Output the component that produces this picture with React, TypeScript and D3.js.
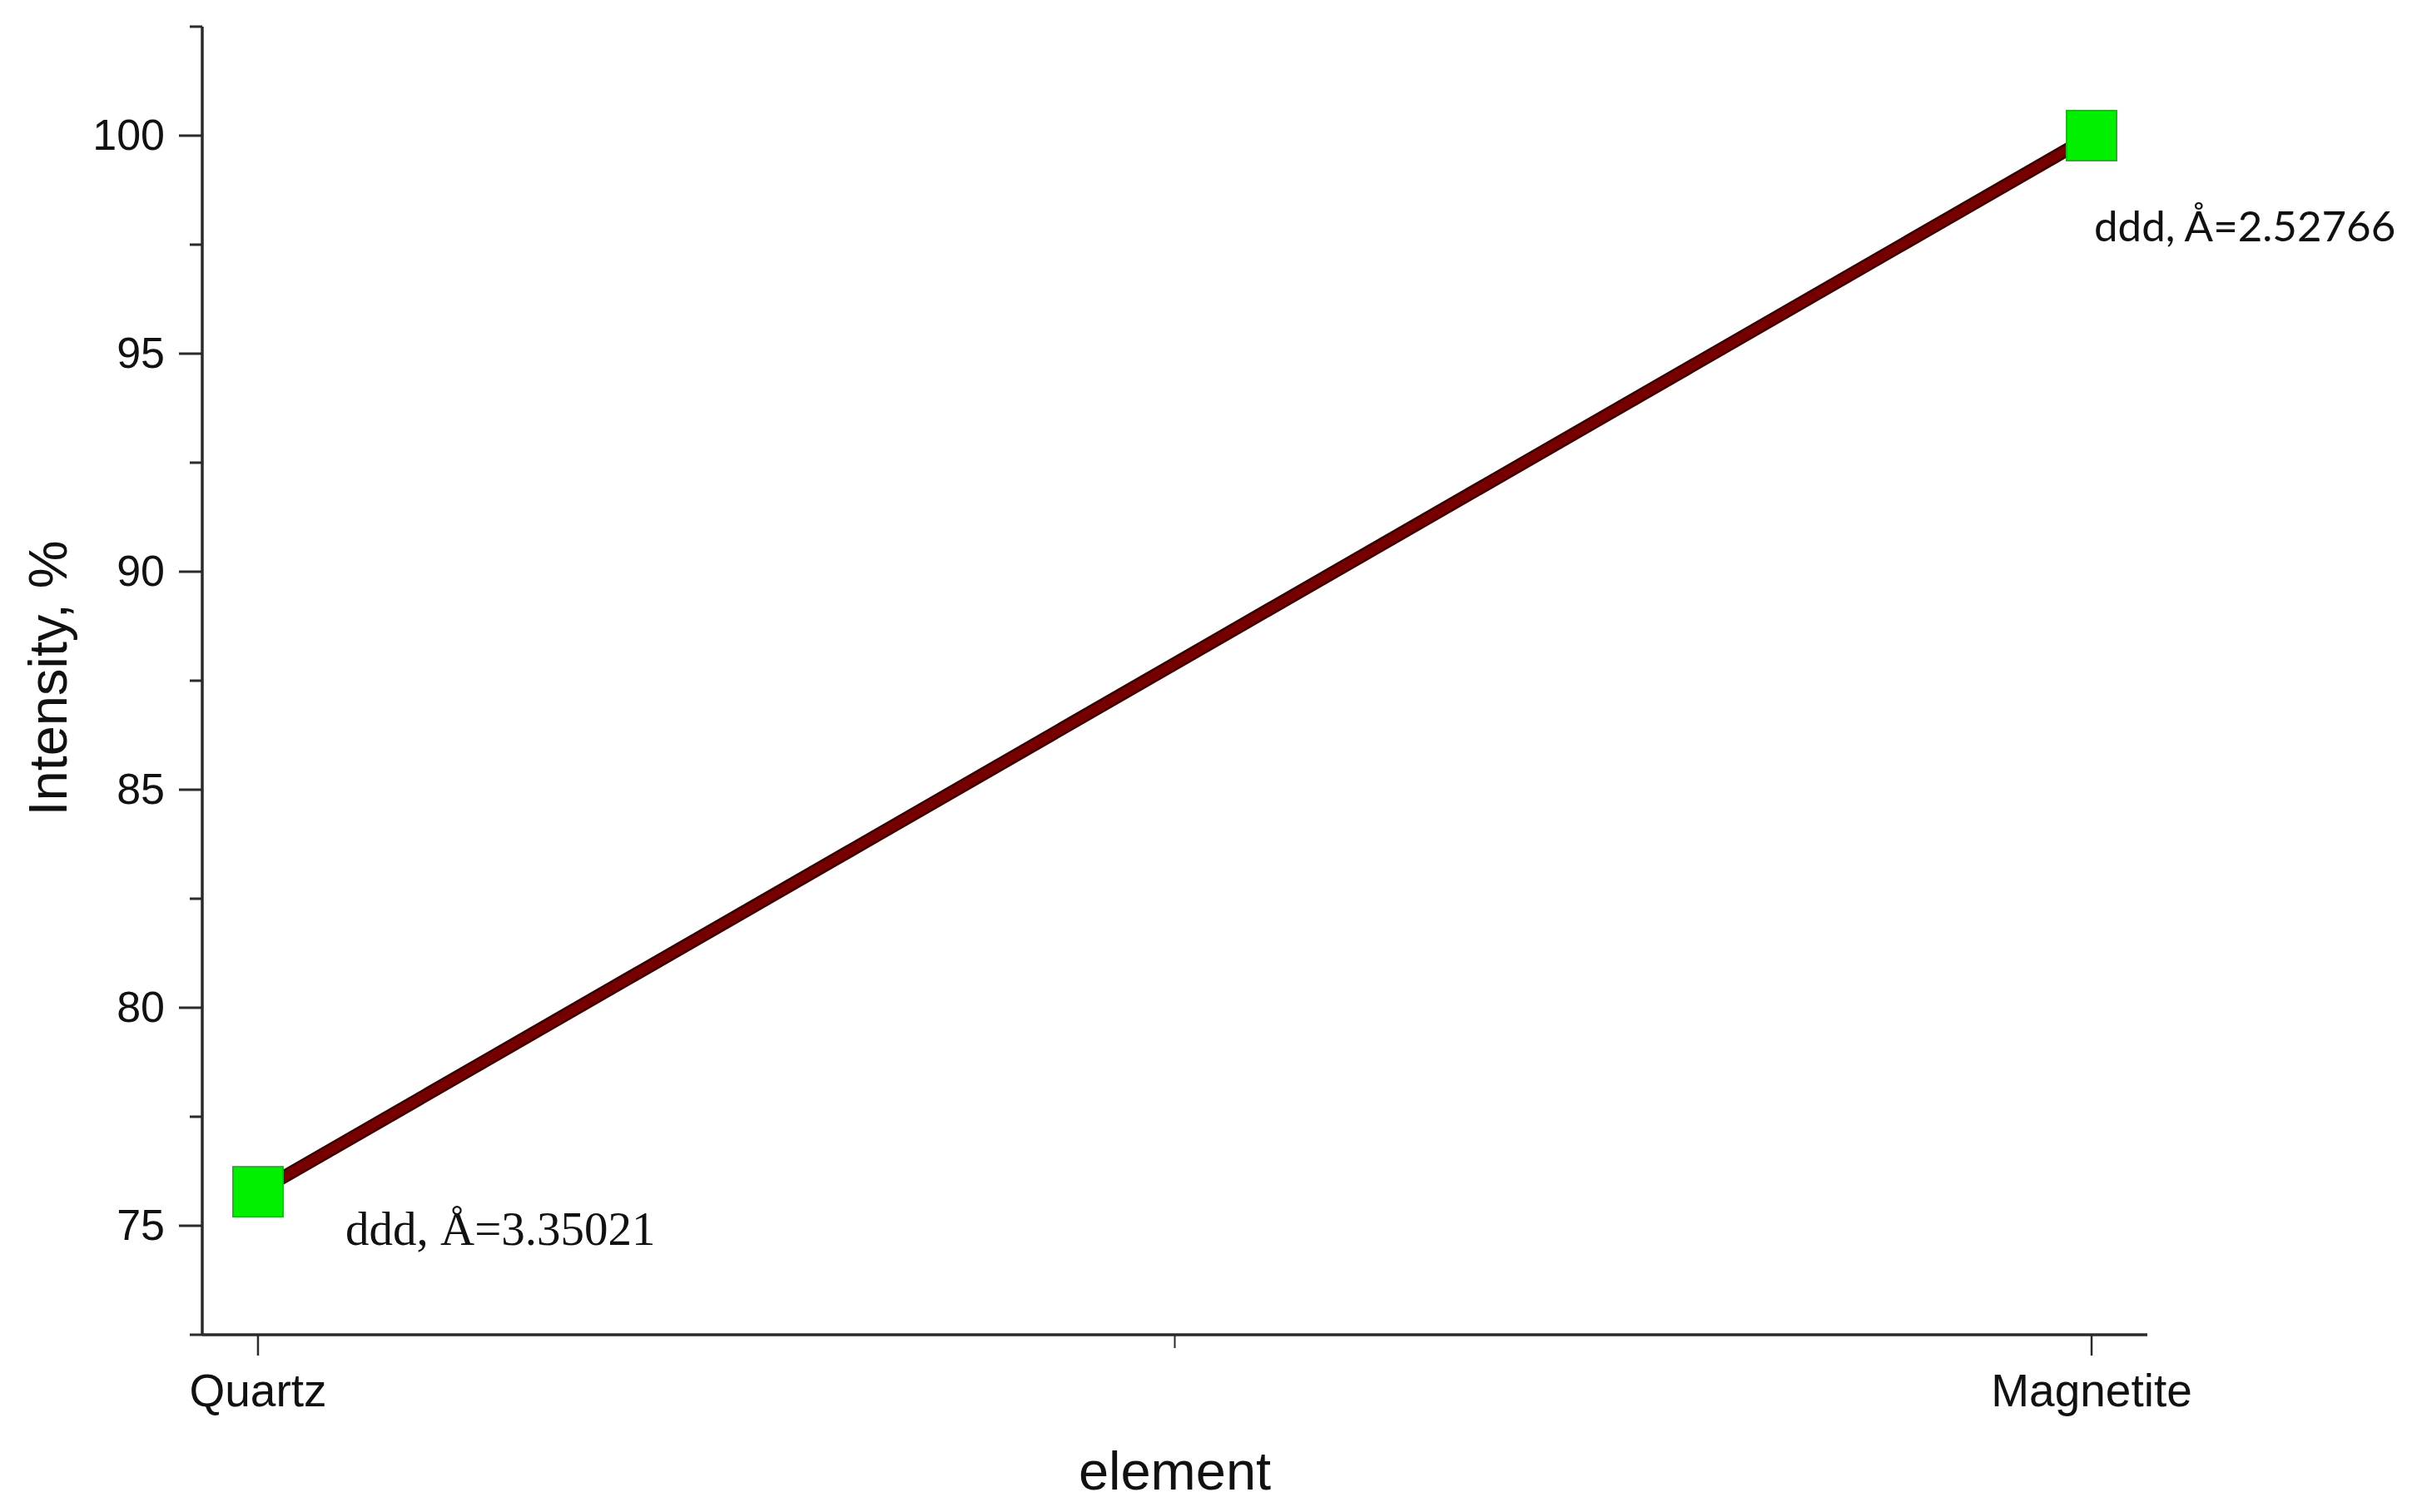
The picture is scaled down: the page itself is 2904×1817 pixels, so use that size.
import React from "react";
import * as d3 from "d3";

const categories = ["Quartz", "Magnetite"];
const intensity = [75.78, 100];
const labels = ["ddd, Å=3.35021", "ddd, Å=2.52766"];
const yMajorTicks = [75, 80, 85, 90, 95, 100];
const yMinorTicks = [72.5, 77.5, 82.5, 87.5, 92.5, 97.5, 102.5];
const xMinorTicks = [0.5];

const W = 2904;
const H = 1817;
const left = 243;
const right = 2580;
const top = 32;
const bottom = 1604;

export default function App() {
  const x = d3.scaleLinear().domain([-0.0304, 1.0304]).range([left, right]);
  const y = d3.scaleLinear().domain([72.5, 102.5]).range([bottom, top]);
  const pts: [number, number][] = intensity.map((v, i) => [x(i), y(v)]);
  const line = d3.line()(pts) || "";
  const axisColor = "#2b2b2b";
  const sans = "'Liberation Sans', Arial, sans-serif";
  const ms = 60;
  return (
    <svg width={W} height={H} style={{ position: "absolute", left: 0, top: 0, background: "#fff" }}>
      <rect width={W} height={H} fill="#fff" />
      {/* axes */}
      <line x1={left} y1={top} x2={left} y2={bottom} stroke={axisColor} strokeWidth={3.5} />
      <line x1={left} y1={bottom} x2={right} y2={bottom} stroke={axisColor} strokeWidth={3.5} />
      {yMajorTicks.map((t) => (
        <g key={"ym" + t}>
          <line x1={left - 28} x2={left} y1={y(t)} y2={y(t)} stroke={axisColor} strokeWidth={3} />
          <text x={left - 45} y={y(t) + 17} textAnchor="end" fontFamily={sans} fontSize={52} fill="#111">
            {t}
          </text>
        </g>
      ))}
      {yMinorTicks.map((t) => (
        <line key={"yn" + t} x1={left - 15} x2={left} y1={y(t)} y2={y(t)} stroke={axisColor} strokeWidth={3} />
      ))}
      {categories.map((c, i) => (
        <g key={c}>
          <line x1={x(i)} x2={x(i)} y1={bottom} y2={bottom + 25} stroke={axisColor} strokeWidth={2.5} />
          <text x={x(i)} y={1690} textAnchor="middle" fontFamily={sans} fontSize={55} fill="#111">
            {c}
          </text>
        </g>
      ))}
      {xMinorTicks.map((t) => (
        <line key={"xn" + t} x1={x(t)} x2={x(t)} y1={bottom} y2={bottom + 16} stroke={axisColor} strokeWidth={2} />
      ))}
      <text x={(left + right) / 2} y={1790} textAnchor="middle" fontFamily={sans} fontSize={65} fill="#111">
        element
      </text>
      <text
        transform={`translate(80, 815) rotate(-90)`}
        textAnchor="middle"
        fontFamily={sans}
        fontSize={65}
        fill="#111"
      >
        Intensity, %
      </text>
      {/* series */}
      <path d={line} fill="none" stroke="#3a0000" strokeWidth={16} />
      <path d={line} fill="none" stroke="#760000" strokeWidth={11} />
      {pts.map(([px, py], i) => (
        <rect
          key={"m" + i}
          x={px - ms / 2}
          y={py - ms / 2}
          width={ms}
          height={ms}
          fill="#00f000"
          stroke="#22b522"
          strokeWidth={2}
        />
      ))}
      <text x={x(0) + 105} y={y(intensity[0]) + 64} fontFamily="'Liberation Serif', 'Times New Roman', serif" fontSize={57} fill="#111">
        {labels[0]}
      </text>
      <text x={x(1) + 3} y={y(intensity[1]) + 127} fontFamily="Lato, 'Open Sans', sans-serif" fontSize={51} fill="#111">
        {labels[1]}
      </text>
    </svg>
  );
}
